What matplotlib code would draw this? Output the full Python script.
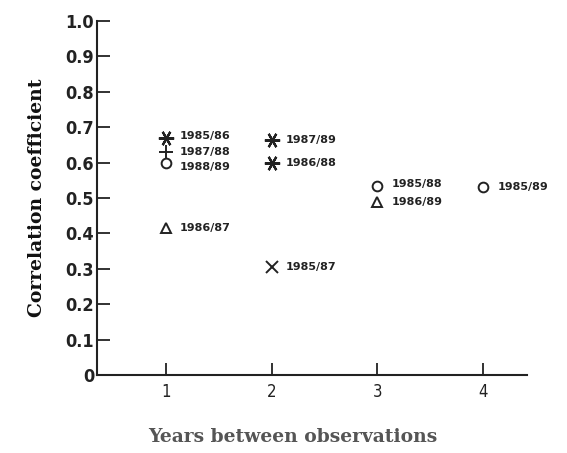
import matplotlib
matplotlib.use("Agg")
import matplotlib.pyplot as plt

# Data
years_between = [1, 1, 1, 1, 2, 2, 2, 3, 3, 4]
correlation = [0.67, 0.63, 0.60, 0.415, 0.665, 0.60, 0.305, 0.535, 0.49, 0.53]
labels = ["1985/86", "1987/88", "1988/89", "1986/87", "1987/89", "1986/88",
          "1985/87", "1985/88", "1986/89", "1985/89"]
symbols = ["ast", "plus", "circle", "tri", "ast", "ast", "x", "circle", "tri", "circle"]
yticks = [0, 0.1, 0.2, 0.3, 0.4, 0.5, 0.6, 0.7, 0.8, 0.9, 1.0]
ytick_labels = ["0", "0.1", "0.2", "0.3", "0.4", "0.5", "0.6", "0.7", "0.8", "0.9", "1.0"]
xticks = [1, 2, 3, 4]

marker_style = {
    "ast": dict(marker=(6, 2, 30), ms=11, mew=1.6),
    "plus": dict(marker="+", ms=10, mew=1.4),
    "circle": dict(marker="o", ms=7, mew=1.4, mfc="none"),
    "tri": dict(marker="^", ms=7, mew=1.4, mfc="none"),
    "x": dict(marker="x", ms=8, mew=1.4),
}
# vertical nudges (points) of labels in the crowded cluster
label_dy = [1, 0, -3.5, 0, 0, 0, 0, 1, 0, 0]

fig = plt.figure(figsize=(5.67, 4.53), dpi=100)
ax = fig.add_axes([0.171, 0.172, 0.758, 0.782])

for xv, yv, lab, sym, dy in zip(years_between, correlation, labels, symbols, label_dy):
    ax.plot([xv], [yv], linestyle="none", color="#222222", **marker_style[sym])
    ax.annotate(lab, (xv, yv), xytext=(10, dy), textcoords="offset points",
                ha="left", va="center", fontsize=8, fontweight="bold",
                color="#222222", family="DejaVu Sans")

ax.set_xlim(0.35, 4.41)
ax.set_ylim(0, 1.0)
ax.set_xticks(xticks)
ax.set_xticklabels([str(v) for v in xticks], fontsize=12, family="DejaVu Sans",
                   fontstretch="condensed", color="#222222")
ax.set_yticks(yticks)
ax.set_yticklabels(ytick_labels, fontsize=13, family="DejaVu Sans",
                   fontstretch="condensed", fontweight="bold", color="#222222")
ax.tick_params(axis="both", direction="in", length=9, width=1.3, color="#222222")
ax.tick_params(axis="y", pad=2)
ax.tick_params(axis="x", pad=6)

for s in ["top", "right"]:
    ax.spines[s].set_visible(False)
for s in ["left", "bottom"]:
    ax.spines[s].set_linewidth(1.5)
    ax.spines[s].set_color("#222222")

ax.set_ylabel("Correlation coefficient", fontsize=13.5, fontweight="bold",
              family="DejaVu Serif", color="#111111", labelpad=14)
ax.set_xlabel("Years between observations", fontsize=13.5, fontweight="bold",
              family="DejaVu Serif", color="#555555")
ax.xaxis.set_label_coords(0.456, -0.15)

fig.savefig("out.png", dpi=100)
